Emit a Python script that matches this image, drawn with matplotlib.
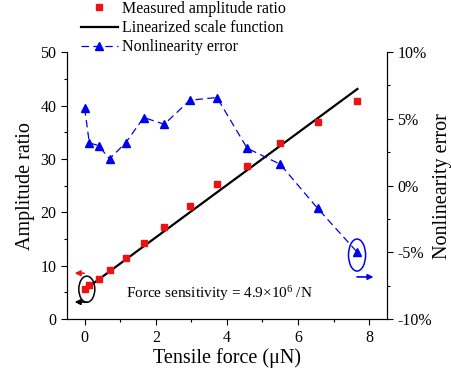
import numpy as np
import matplotlib
matplotlib.use('Agg')
import matplotlib.pyplot as plt
from matplotlib.patches import Ellipse

plt.rcParams['font.family'] = ['Liberation Serif', 'DejaVu Serif']
plt.rcParams['mathtext.fontset'] = 'custom'
plt.rcParams['mathtext.rm'] = 'Liberation Serif'
plt.rcParams['mathtext.it'] = 'Liberation Serif:italic'

# measured data
force = [0.0, 0.13, 0.39, 0.70, 1.15, 1.66, 2.24, 2.96, 3.72, 4.57, 5.50, 6.55, 7.67]
amp = [5.6, 6.4, 7.5, 9.2, 11.4, 14.2, 17.3, 21.2, 25.3, 28.6, 33.0, 36.9, 40.8]
err = [5.8, 3.2, 3.0, 2.0, 3.2, 5.1, 4.6, 6.4, 6.6, 2.8, 1.6, -1.7, -5.0]

# linearized scale function
fit_x = [0.0, 7.67]
fit_y = [5.5, 43.1]

fig = plt.figure(figsize=(4.52, 3.75), dpi=100)
ax = fig.add_axes([0.148, 0.149, 0.708, 0.712])
ax2 = ax.twinx()

h1, = ax.plot(force, amp, 's', color='#ee1111', markersize=4.5, label='Measured amplitude ratio', zorder=3)
h2, = ax.plot(fit_x, fit_y, '-', color='black', lw=1.6, label='Linearized scale function', zorder=2)
h3, = ax2.plot(force, err, '--', color='#0000ee', lw=0.9, dashes=(6, 3.5),
               marker='^', markersize=5.5, label='Nonlinearity error')

ax.set_xlim(-0.5, 8.5)
ax.set_ylim(0, 50)
ax2.set_ylim(-10, 10)
ax.set_xticks([0, 2, 4, 6, 8])
ax.set_xticks([1, 3, 5, 7], minor=True)
ax.set_yticks([0, 10, 20, 30, 40, 50])
ax.set_yticks([5, 15, 25, 35, 45], minor=True)
ax2.set_yticks([-10, -5, 0, 5, 10])
ax2.set_yticks([-7.5, -2.5, 2.5, 7.5], minor=True)
ax2.set_yticklabels(['-10%', '-5%', '0%', '5%', '10%'])

for a in (ax, ax2):
    a.spines['top'].set_visible(False)
    a.tick_params(which='major', direction='out', length=4, width=0.8, labelsize=11.5)
    a.tick_params(which='minor', direction='out', length=2.5, width=0.8)

ax.set_xlabel('Tensile force (μN)', fontsize=14.5, labelpad=2)
ax.set_ylabel('Amplitude ratio', fontsize=14.5, labelpad=4)
ax2.set_ylabel('Nonlinearity error', fontsize=14.5, labelpad=1)

# annotations
ax.add_patch(Ellipse((0.06, 5.6), 0.45, 4.9, fill=False, ec='black', lw=1.1))
ax.annotate('', xy=(-0.36, 8.6), xytext=(0.06, 8.6),
            arrowprops=dict(arrowstyle='-|>', color='#ee1111', lw=1.2, mutation_scale=8))
ax.annotate('', xy=(-0.36, 3.2), xytext=(0.14, 3.2),
            arrowprops=dict(arrowstyle='-|>', color='black', lw=1.2, mutation_scale=8))
ax.add_patch(Ellipse((7.66, 12.0), 0.48, 6.0, fill=False, ec='#0000ee', lw=1.1))
ax.annotate('', xy=(8.2, 7.9), xytext=(7.58, 7.9),
            arrowprops=dict(arrowstyle='-|>', color='#0000ee', lw=1.2, mutation_scale=8))
ax.text(1.15, 4.8, r'Force sensitivity = 4.9×10$^{6}$ /N', fontsize=11, va='center')

fig.legend(handles=[h1, h2, h3], loc='upper left', bbox_to_anchor=(81 / 452, 1 - 1 / 375),
           frameon=False, fontsize=11.5, borderpad=0, borderaxespad=0,
           labelspacing=0.2, handlelength=2.3, handletextpad=0.25, numpoints=1)

fig.savefig('out.png', dpi=100)
